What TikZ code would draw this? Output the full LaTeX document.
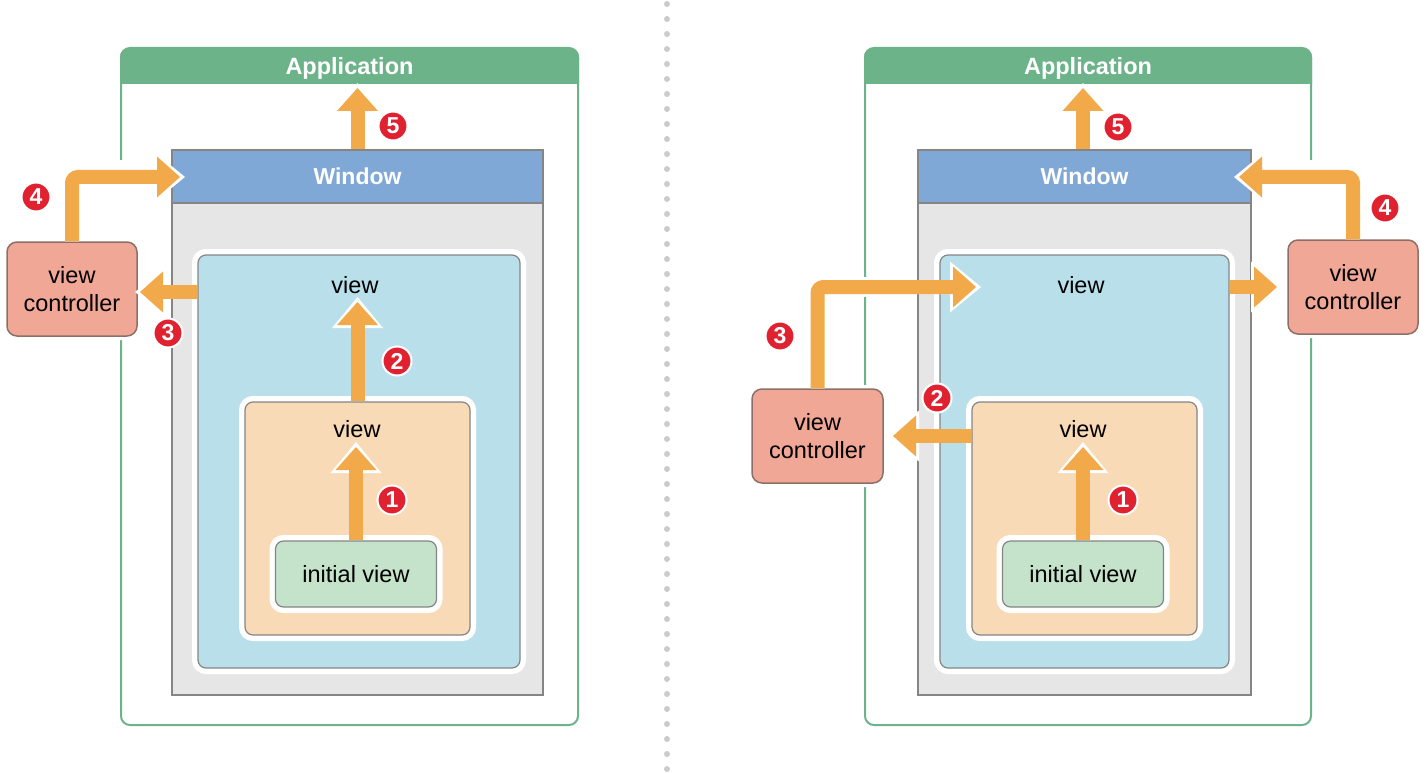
\documentclass[tikz,border=0pt]{standalone}
\usepackage{fontspec}
\setmainfont{Liberation Sans}
\usetikzlibrary{arrows.meta}
\definecolor{appgreen}{HTML}{6DB38A}
\definecolor{winblue}{HTML}{80A8D6}
\definecolor{wingray}{HTML}{E6E6E6}
\definecolor{bordergray}{HTML}{858585}
\definecolor{viewblue}{HTML}{B9E0EA}
\definecolor{peach}{HTML}{F9DAB6}
\definecolor{initgreen}{HTML}{C5E3CA}
\definecolor{vcred}{HTML}{F1A796}
\definecolor{vcborder}{HTML}{8C7068}
\definecolor{flowor}{HTML}{F2A94A}
\definecolor{badgered}{HTML}{E0212F}
\definecolor{dotgray}{HTML}{CBCBCB}
\newcommand\lblfont{\fontsize{23.5}{28}\selectfont}
\newcommand\flowarrow[2]{%
  \draw[flowhalo, shorten >=#1-5pt] #2;
  \draw[flow, shorten >=#1] #2;}
\tikzset{
  frame/.style={rectangle, inner sep=0pt, draw=appgreen, line width=2pt, rounded corners=9pt},
  apphd/.style={rectangle, inner sep=0pt, text=white, font=\bfseries\fontsize{23.5}{28}\selectfont},
  winbox/.style={rectangle, inner sep=0pt, fill=wingray, draw=bordergray, line width=1.5pt},
  winhd/.style={rectangle, inner sep=0pt, fill=winblue, draw=bordergray, line width=1.5pt, text=white, font=\bfseries\fontsize{23}{28}\selectfont},
  viewbox/.style={rectangle, inner sep=0pt, rounded corners=8pt, draw=bordergray, line width=1.2pt, preaction={draw=white, line width=12pt}},
  vcbox/.style={rectangle, inner sep=0pt, rounded corners=10pt, fill=vcred, draw=vcborder, line width=1.5pt, align=center, font=\lblfont, preaction={draw=white, line width=8pt}},
  lbl/.style={inner sep=0pt, font=\lblfont},
  badge/.style={circle, fill=badgered, draw=white, line width=2pt, minimum size=29pt, inner sep=0pt, text=white, font=\bfseries\fontsize{23}{23}\selectfont},
  flow/.style={draw=flowor, line width=14pt, rounded corners=6pt, -{Triangle[length=23pt,width=41pt,line width=0pt]}},
  flowhalo/.style={draw=white, line width=14pt, rounded corners=6pt, -{Triangle[length=31pt,width=51pt,line width=0pt]}},
}
\begin{document}
\begin{tikzpicture}[x=1pt,y=-1pt]
\useasboundingbox (0,0) rectangle (1425,773);
% separator
\draw[dotgray, line width=6pt, line cap=round, dash pattern=on 0pt off 15pt] (667,4) -- (667,773);

%================ LEFT PANEL ================
\node[frame, minimum width=457pt, minimum height=677pt] (appL) at (349.5,386.5) {};
\fill[appgreen, rounded corners=9pt] (120,84) -- (120,48) -- (579,48) -- (579,84);
\node[apphd, minimum width=457pt, minimum height=36pt] (appheadL) at (349.5,68.5) {Application};
\fill[white] (115,160) rectangle (127,240);

\node[winbox, minimum width=371pt, minimum height=545pt] (winL) at (357.5,422.5) {};
\node[winhd, minimum width=371pt, minimum height=53pt] (winheadL) at (357.5,176.5) {Window};
\node[viewbox, fill=viewblue, minimum width=322pt, minimum height=413pt] (ovL) at (359,461.5) {};
\node[viewbox, fill=peach, minimum width=225pt, minimum height=233pt] (ivL) at (357.5,518.5) {};
\node[viewbox, fill=initgreen, minimum width=161pt, minimum height=66pt, font=\lblfont] (initL) at (356,574) {initial view};
\node[lbl] (ovlL) at (355,285) {view};
\node[lbl] (ivlL) at (357,429) {view};
\node[vcbox, minimum width=130pt, minimum height=94pt] (vcL) at (72,289) {view\\controller};

\coordinate (t5L) at (357.5,88);
\coordinate (t4L) at (180,177);
\coordinate (t3L) at (140,292);
\coordinate (t2L) at (357.5,302);
\coordinate (t1L) at (356,447);
\flowarrow{0pt}{(winheadL.north) -- (t5L)}
\flowarrow{0pt}{(vcL.north) |- (t4L)}
\flowarrow{0pt}{(ovL.west |- t3L) -- (t3L)}
\flowarrow{0pt}{(ivL.north) -- (t2L)}
\flowarrow{0pt}{(initL.north) -- (t1L)}

\node[badge] (b5L) at (393,126) {5};
\node[badge] (b4L) at (36,197) {4};
\node[badge] (b3L) at (168,333) {3};
\node[badge] (b2L) at (397,361) {2};
\node[badge] (b1L) at (392,500) {1};

%================ RIGHT PANEL ================
\node[frame, minimum width=446pt, minimum height=677pt] (appR) at (1088,386.5) {};
\fill[appgreen, rounded corners=9pt] (864,84) -- (864,48) -- (1312,48) -- (1312,84);
\node[apphd, minimum width=446pt, minimum height=36pt] (appheadR) at (1088,68.5) {Application};
\fill[white] (1305,160) rectangle (1317,240);
\fill[white] (859,277) rectangle (871,297);

\node[winbox, minimum width=333pt, minimum height=545pt] (winR) at (1084.5,422.5) {};
\node[winhd, minimum width=333pt, minimum height=53pt] (winheadR) at (1084.5,176.5) {Window};
\node[viewbox, fill=viewblue, minimum width=289pt, minimum height=413pt] (ovR) at (1084.5,461.5) {};
\node[viewbox, fill=peach, minimum width=225pt, minimum height=233pt] (ivR) at (1084.5,518.5) {};
\node[viewbox, fill=initgreen, minimum width=161pt, minimum height=66pt, font=\lblfont] (initR) at (1083,574) {initial view};
\node[lbl] (ovlR) at (1081,285) {view};
\node[lbl] (ivlR) at (1083,429) {view};
\node[vcbox, minimum width=130pt, minimum height=94pt] (vcR) at (1353,287) {view\\controller};
\node[vcbox, minimum width=131pt, minimum height=94pt] (vcLR) at (817.5,436) {view\\controller};

\coordinate (t5R) at (1083,88);
\coordinate (t4R) at (1239,177);
\coordinate (t3R) at (976,287);
\coordinate (t6R) at (1277,287);
\coordinate (t2R) at (893,436);
\coordinate (t1R) at (1083,447);
\flowarrow{0pt}{(winheadR.north -| t5R) -- (t5R)}
\flowarrow{0pt}{(vcR.north) |- (t4R)}
\flowarrow{0pt}{(vcLR.north) |- (t3R)}
\flowarrow{0pt}{(ovR.east |- t6R) -- (t6R)}
\flowarrow{0pt}{(ivR.west |- t2R) -- (t2R)}
\flowarrow{0pt}{(initR.north -| t1R) -- (t1R)}

\node[badge] (b5R) at (1118,127) {5};
\node[badge] (b4R) at (1385,208) {4};
\node[badge] (b3R) at (780,336) {3};
\node[badge] (b2R) at (937,398) {2};
\node[badge] (b1R) at (1123,500) {1};
\end{tikzpicture}
\end{document}
